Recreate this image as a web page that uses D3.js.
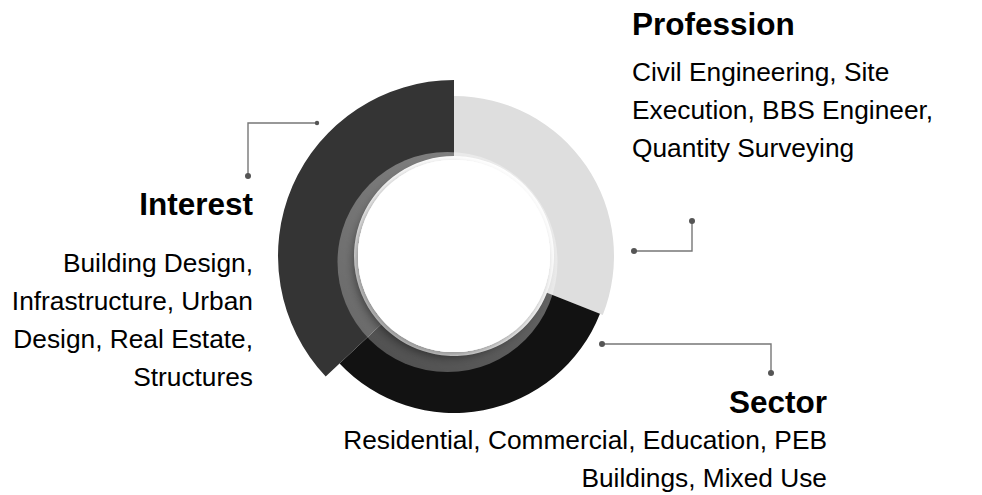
<!DOCTYPE html>
<html>
<head>
<meta charset="utf-8">
<script src="https://cdn.jsdelivr.net/npm/d3@7"></script>
<style>
  html, body { margin: 0; padding: 0; background: #fff; }
  svg { display: block; }
  text { font-family: "Liberation Sans", Arial, Helvetica, sans-serif; fill: #000; }
</style>
</head>
<body>
<svg id="chart" width="982" height="495"></svg>
<script>
// ---- data ----
const categories = ["Profession", "Sector", "Interest"];
const shares = [31, 32, 37];
const descriptions = [
  ["Civil Engineering, Site", "Execution, BBS Engineer,", "Quantity Surveying"],
  ["Residential, Commercial, Education, PEB", "Buildings, Mixed Use"],
  ["Building Design,", "Infrastructure, Urban", "Design, Real Estate,", "Structures"]
];

// ---- style / layout ----
const colors = ["#dedede", "#121212", "#343434"];
const outerR = [160, 157, 176];
const innerR = 100;
const cx = 454, cy = 256;

const svg = d3.select("#chart");
const defs = svg.append("defs");

const ringGrad = defs.append("linearGradient").attr("id", "ringGrad")
  .attr("x1", "0.8").attr("y1", "0.1").attr("x2", "0.2").attr("y2", "0.9");
ringGrad.append("stop").attr("offset", "0").attr("stop-color", "#fff").attr("stop-opacity", 0.38);
ringGrad.append("stop").attr("offset", "1").attr("stop-color", "#fff").attr("stop-opacity", 0.27);

const shadow = defs.append("filter").attr("id", "innerShadow")
  .attr("x", "-30%").attr("y", "-30%").attr("width", "160%").attr("height", "160%");
shadow.append("feGaussianBlur").attr("in", "SourceAlpha").attr("stdDeviation", 5);
shadow.append("feOffset").attr("dx", -4).attr("dy", 5).attr("result", "b");
shadow.append("feFlood").attr("flood-color", "#000").attr("flood-opacity", 0.45);
shadow.append("feComposite").attr("in2", "b").attr("operator", "in");
const m = shadow.append("feMerge");
m.append("feMergeNode");
m.append("feMergeNode").attr("in", "SourceGraphic");

const pie = d3.pie().sort(null).value(d => d);
const arcs = pie(shares);

const g = svg.append("g").attr("transform", `translate(${cx},${cy})`);
g.selectAll("path.seg").data(arcs).join("path")
  .attr("class", "seg")
  .attr("fill", (d, i) => colors[i])
  .attr("d", (d, i) => d3.arc().innerRadius(innerR).outerRadius(outerR[i])(d));

// translucent ring
g.append("circle").attr("cx", -6.5).attr("cy", 6).attr("r", 110)
  .attr("fill", "url(#ringGrad)");

// white center with shadow
g.append("circle").attr("cx", 0).attr("cy", 0).attr("r", 96)
  .attr("fill", "#fff").attr("filter", "url(#innerShadow)");
g.append("circle").attr("cx", 0).attr("cy", 0).attr("r", 96).attr("fill", "#fff");

// ---- connectors ----
const connectors = [
  { pts: [[634, 251], [692, 251], [692, 221]] },
  { pts: [[602, 344], [771, 344], [771, 373]] },
  { pts: [[317, 123], [248, 123], [248, 176]] }
];
const lc = svg.append("g");
connectors.forEach(c => {
  lc.append("path").attr("d", d3.line()(c.pts))
    .attr("fill", "none").attr("stroke", "#777").attr("stroke-width", 1.4);
});
const dots = [[634, 251, 3], [692, 221, 3], [602, 344, 3], [771, 373, 3], [317, 123, 2.2], [248, 176, 3]];
lc.selectAll("circle").data(dots).join("circle")
  .attr("cx", d => d[0]).attr("cy", d => d[1]).attr("r", d => d[2]).attr("fill", "#555");

// ---- labels ----
const labelPos = [
  { x: 632, anchor: "start", title: 35, body: [81, 119, 157] },
  { x: 827, anchor: "end", title: 413, body: [449, 487] },
  { x: 253, anchor: "end", title: 215, body: [272, 310, 348, 386] }
];
categories.forEach((c, i) => {
  const p = labelPos[i];
  svg.append("text").attr("x", p.x).attr("y", p.title).attr("text-anchor", p.anchor)
    .attr("font-size", 31.5).attr("font-weight", "bold").text(c);
  descriptions[i].forEach((line, j) => {
    svg.append("text").attr("x", p.x).attr("y", p.body[j]).attr("text-anchor", p.anchor)
      .attr("font-size", 26.3).attr("fill", "#111").text(line);
  });
});
</script>
</body>
</html>
